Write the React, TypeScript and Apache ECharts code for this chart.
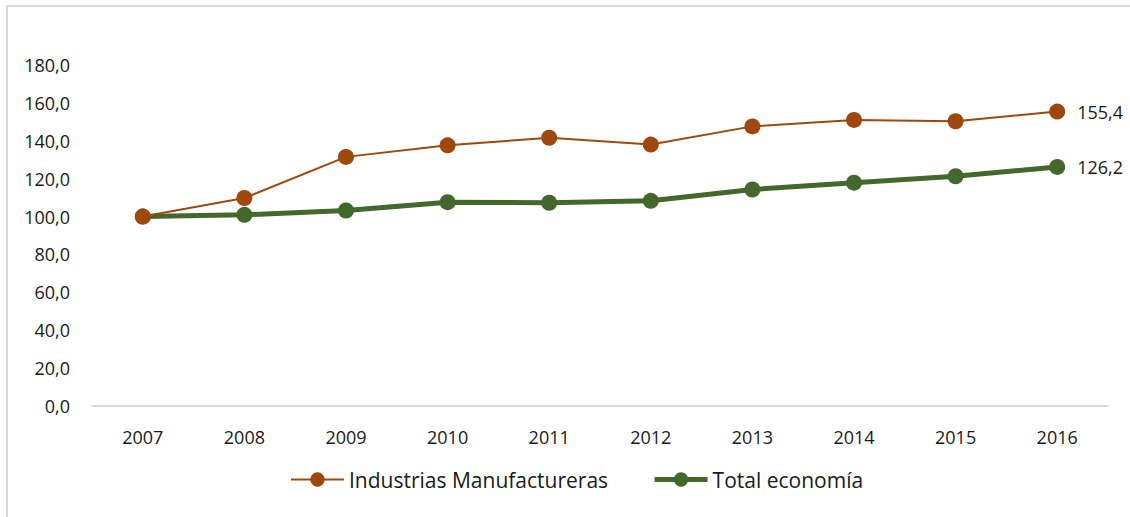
import React, { useEffect, useRef } from "react";
import * as echarts from "echarts";

const years = ["2007", "2008", "2009", "2010", "2011", "2012", "2013", "2014", "2015", "2016"];
const industrias = [100.0, 109.8, 131.5, 137.6, 141.6, 138.0, 147.6, 151.0, 150.3, 155.4];
const totalEconomia = [100.0, 100.9, 103.2, 107.6, 107.3, 108.3, 114.3, 117.9, 121.3, 126.2];
const seriesNames = ["Industrias Manufactureras", "Total economía"];

const fmt = (v: number) => v.toFixed(1).replace(".", ",");

export default function App() {
  const ref = useRef<HTMLDivElement>(null);
  useEffect(() => {
    if (!ref.current) return;
    const chart = echarts.init(ref.current, undefined, { renderer: "svg" });
    const font = "'Open Sans', sans-serif";
    const lastLabel = {
      show: true,
      position: "right" as const,
      distance: 12,
      color: "#1a1a1a",
      fontSize: 18,
      fontFamily: font,
      formatter: (p: any) => (p.dataIndex === years.length - 1 ? fmt(p.value) : ""),
    };
    chart.setOption({
      animation: false,
      backgroundColor: "#ffffff",
      graphic: [
        {
          type: "rect",
          shape: { x: 7, y: 6, width: 1140, height: 530 },
          style: { fill: "none", stroke: "#d9d9d9", lineWidth: 2 },
          silent: true,
          z: -1,
        },
      ],
      grid: { left: 92, right: 22, top: 65, bottom: 111 },
      xAxis: {
        type: "category",
        data: years,
        boundaryGap: true,
        axisLine: { show: true, lineStyle: { color: "#d9d9d9", width: 2 } },
        axisTick: { show: false },
        axisLabel: { color: "#1a1a1a", fontSize: 18, fontFamily: font, margin: 22 },
        splitLine: { show: false },
      },
      yAxis: {
        type: "value",
        min: 0,
        max: 180,
        interval: 20,
        axisLine: { show: false },
        axisTick: { show: false },
        splitLine: { show: false },
        axisLabel: {
          color: "#1a1a1a",
          fontSize: 18,
          fontFamily: font,
          margin: 22,
          formatter: (v: number) => fmt(v),
        },
      },
      legend: {
        left: 285,
        top: 464,
        itemWidth: 53,
        itemHeight: 18,
        itemGap: 44,
        textStyle: { color: "#1a1a1a", fontSize: 21, fontFamily: font },
        data: [
          { name: seriesNames[0], lineStyle: { width: 2 } },
          { name: seriesNames[1], lineStyle: { width: 5 } },
        ],
      },
      series: [
        {
          name: seriesNames[0],
          type: "line",
          data: industrias,
          symbol: "circle",
          symbolSize: 16,
          lineStyle: { color: "#9E480E", width: 2 },
          itemStyle: { color: "#9E480E" },
          label: lastLabel,
          z: 3,
        },
        {
          name: seriesNames[1],
          type: "line",
          data: totalEconomia,
          symbol: "circle",
          symbolSize: 16,
          lineStyle: { color: "#43682B", width: 5 },
          itemStyle: { color: "#43682B" },
          label: lastLabel,
          z: 2,
        },
      ],
    });
    return () => chart.dispose();
  }, []);
  return (
    <div
      ref={ref}
      style={{ position: "fixed", left: 0, top: 0, width: 1130, height: 517 }}
    />
  );
}
